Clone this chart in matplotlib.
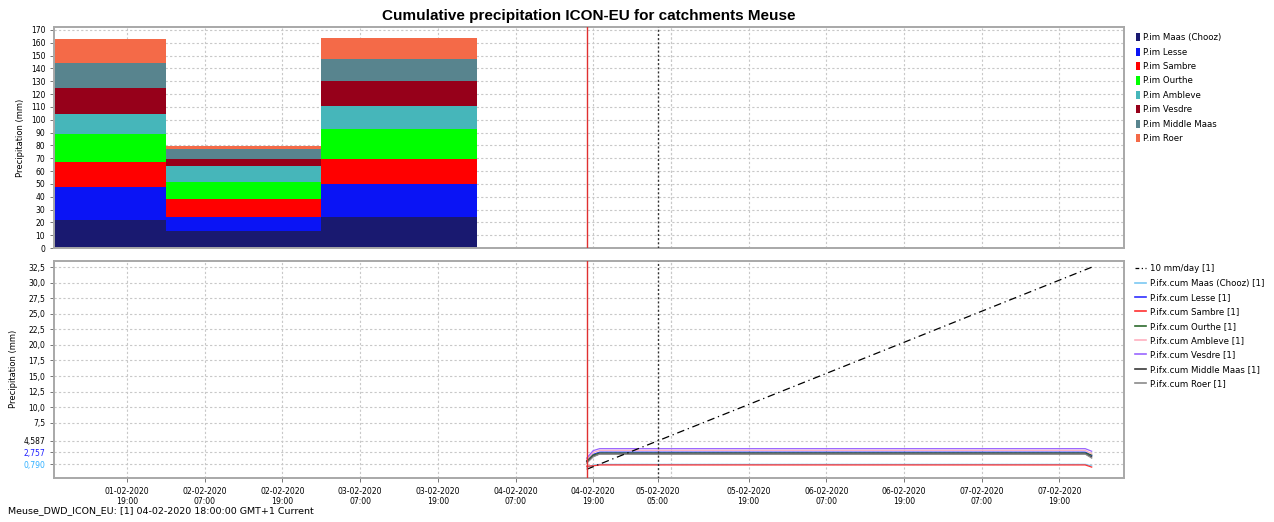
import datetime as dt
import matplotlib
matplotlib.use('Agg')
import matplotlib.pyplot as plt
import matplotlib.dates as mdates
from matplotlib.patches import Patch
from matplotlib.lines import Line2D

plt.rcParams['font.family'] = ['DejaVu Sans']

# daily totals per catchment (bars start at 01:00 local time)
day_starts = ['2020-02-01 01:00', '2020-02-02 01:00', '2020-02-03 01:00']
maas = [21.8, 13.5, 23.9]
lesse = [25.5, 10.4, 26.0]
sambre = [20.0, 14.1, 19.5]
ourthe = [21.6, 13.7, 23.4]
ambleve = [15.9, 12.3, 17.9]
vesdre = [20.2, 5.4, 19.5]
middle_maas = [19.0, 7.8, 16.9]
roer = [18.7, 2.6, 16.4]

bar_names = ['P.im Maas (Chooz)', 'P.im Lesse', 'P.im Sambre', 'P.im Ourthe',
             'P.im Ambleve', 'P.im Vesdre', 'P.im Middle Maas', 'P.im Roer']
bar_colors = ['#191970', '#0a14f5', '#ff0000', '#00ff00',
              '#46b6ba', '#96001a', '#58848e', '#f46a48']

# forecast cumulative series
fc_times = ['2020-02-04 18:00', '2020-02-04 19:00', '2020-02-04 20:00',
            '2020-02-07 23:00', '2020-02-08 00:00']
cum_maas = [0.35, 0.65, 0.79, 0.79, 0.55]
cum_lesse = [1.3, 2.4, 2.757, 2.757, 2.2]
cum_sambre = [0.5, 0.55, 0.70, 0.70, 0.35]
cum_ourthe = [1.4, 2.3, 2.62, 2.62, 2.3]
cum_ambleve = [1.6, 2.7, 3.05, 3.05, 2.5]
cum_vesdre = [1.8, 3.0, 3.32, 3.32, 2.9]
cum_middle = [1.2, 2.1, 2.48, 2.48, 2.0]
cum_roer = [1.0, 2.0, 2.45, 2.45, 1.8]

ref_times = ['2020-02-04 18:00', '2020-02-08 00:00']
ref_vals = [0.0, 32.5]

line_names = ['P.ifx.cum Maas (Chooz) [1]', 'P.ifx.cum Lesse [1]', 'P.ifx.cum Sambre [1]',
              'P.ifx.cum Ourthe [1]', 'P.ifx.cum Ambleve [1]', 'P.ifx.cum Vesdre [1]',
              'P.ifx.cum Middle Maas [1]', 'P.ifx.cum Roer [1]']
line_colors = ['#7cc8f2', '#3030ff', '#ff3030', '#2e6b2e',
               '#ffb0c0', '#9a66ff', '#3a3a3a', '#8a8a8a']

now_time = '2020-02-04 18:00'
mark_time = '2020-02-05 05:00'

def t(s):
    return dt.datetime.strptime(s, '%Y-%m-%d %H:%M')

fig = plt.figure(figsize=(12.74, 5.22), dpi=100)
ax1 = fig.add_axes([0.0426, 0.5249, 0.8397, 0.4228])
ax2 = fig.add_axes([0.0426, 0.0849, 0.8397, 0.4151])

# stacked bars
x_bars = [mdates.date2num(t(s)) for s in day_starts]
bottom = [0.0] * len(x_bars)
for vals, name, col in zip([maas, lesse, sambre, ourthe, ambleve, vesdre, middle_maas, roer],
                           bar_names, bar_colors):
    ax1.bar(x_bars, vals, width=1.0, bottom=bottom, align='edge', color=col,
            linewidth=0, label=name, zorder=2)
    bottom = [b + v for b, v in zip(bottom, vals)]

# forecast lines
xt = [t(s) for s in fc_times]
order = [cum_maas, cum_lesse, cum_sambre, cum_ourthe, cum_ambleve, cum_vesdre, cum_middle, cum_roer]
for vals, name, col in zip(order, line_names, line_colors):
    ax2.plot(xt, vals, color=col, lw=0.9, label=name, zorder=3)
ax2.plot([t(s) for s in ref_times], ref_vals, color='black', lw=0.9,
         linestyle=(0, (6, 3, 1, 3)), label='10 mm/day [1]', zorder=4)

xmin, xmax = t('2020-02-01 07:45'), t('2020-02-08 05:00')
grid_times = [t('2020-02-01 19:00') + dt.timedelta(hours=12 * i) for i in range(13)]
tick_times = sorted([g for g in grid_times if g != t('2020-02-05 07:00')] + [t(mark_time)])

for ax in (ax1, ax2):
    for g in grid_times + [t('2020-02-05 07:00')]:
        ax.axvline(g, color='#c8c8c8', lw=0.8, linestyle=(0, (2, 2)), zorder=1)
    ax.axvline(t(now_time), color='#e03030', lw=1.0, zorder=5)
    ax.axvline(t(mark_time), color='#333333', lw=1.0, linestyle=(0, (1.5, 1.5)), zorder=5)
    ax.grid(axis='y', color='#c8c8c8', lw=0.8, linestyle=(0, (2, 2)), zorder=1)
    ax.set_axisbelow(True)
    for sp in ax.spines.values():
        sp.set_color('#a8a8a8')
        sp.set_linewidth(1.4)
    ax.tick_params(colors='#606060', labelcolor='black', labelsize=5.5, length=3, width=0.6)
    ax.set_ylabel('Precipitation (mm)', fontsize=6, labelpad=4)
    ax.set_xticks(tick_times)
    ax.set_xlim(xmin, xmax)

ax1.set_xticklabels([])
ax1.tick_params(axis='x', length=0)
ax1.set_ylim(0, 172)
ax1.set_yticks(range(0, 171, 10))

ax2.set_xticklabels([d.strftime('%d-%m-%Y\n%H:%M') for d in tick_times], linespacing=1.2)
ax2.tick_params(axis='x', labelsize=5.6)
yt = [0.79, 2.757, 4.587, 7.5, 10.0, 12.5, 15.0, 17.5, 20.0, 22.5, 25.0, 27.5, 30.0, 32.5]
ax2.set_yticks(yt)
ax2.set_yticklabels(['0,790', '2,757', '4,587'] + [('%.1f' % v).replace('.', ',') for v in yt[3:]])
ax2.set_ylim(-1.35, 33.5)
for lab, col in zip(ax2.get_yticklabels()[:3], ['#30b0ff', '#2020ff', 'black']):
    lab.set_color(col)

# legends
h1 = [Patch(facecolor=c, edgecolor='none') for c in bar_colors]
fig.legend(h1, bar_names, loc='upper left', bbox_to_anchor=(0.889, 0.943),
           frameon=False, fontsize=6.2, handlelength=0.45, handleheight=1.1,
           handletextpad=0.4, labelspacing=0.62, borderaxespad=0)
h2 = [Line2D([], [], color='black', lw=0.9, linestyle=(0, (3, 2, 1, 2)))] + \
     [Line2D([], [], color=c, lw=1.2) for c in line_colors]
fig.legend(h2, ['10 mm/day [1]'] + line_names, loc='upper left', bbox_to_anchor=(0.888, 0.5),
           frameon=False, fontsize=6.2, handlelength=1.3, handletextpad=0.5,
           labelspacing=0.62, borderaxespad=0)

fig.text(0.4623, 0.970, 'Cumulative precipitation ICON-EU for catchments Meuse',
         ha='center', va='center', fontsize=11, fontweight='bold', family='Liberation Sans')
fig.text(0.006, 0.022, 'Meuse_DWD_ICON_EU: [1] 04-02-2020 18:00:00 GMT+1 Current',
         ha='left', va='center', fontsize=6.8)

fig.savefig('out.png', dpi=100)
